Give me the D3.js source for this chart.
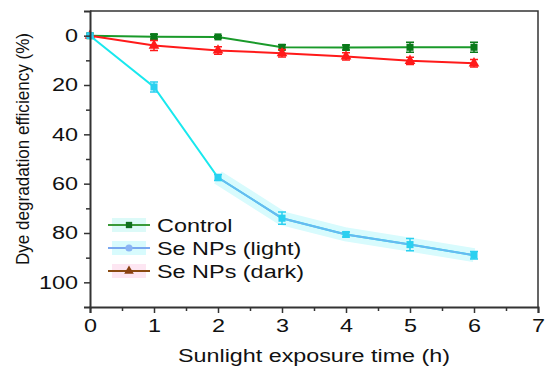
<!DOCTYPE html>
<html lang="en">
<head>
<meta charset="utf-8">
<title>Dye degradation</title>
<script src="https://d3js.org/d3.v7.min.js"></script>
<style>
body { margin: 0; background: #fff; }
text { font-family: "Liberation Sans", Arial, sans-serif; }
</style>
</head>
<body>
<script>
// data
const hours = [0, 1, 2, 3, 4, 5, 6];
const control = [0, 0.4, 0.5, 4.7, 4.8, 4.7, 4.7];
const controlErr = [0.5, 1, 0.5, 1, 1, 2, 2];
const light = [0, 20.8, 57.5, 74, 80.6, 84.7, 89];
const lightErr = [0.5, 2, 1.2, 2.5, 1, 2.5, 1.5];
const dark = [0, 4, 6, 7.1, 8.4, 10.2, 11.2];
const darkErr = [0.5, 2, 1.5, 1.5, 1.5, 1.5, 1.5];
const xTicks = [0, 1, 2, 3, 4, 5, 6, 7];
const yTicks = [0, 20, 40, 60, 80, 100];

const w = 550, h = 370;
const svg = d3.select("body").append("svg").attr("width", w).attr("height", h);

const x = d3.scaleLinear().domain([0, 7]).range([90, 538]);
const y = d3.scaleLinear().domain([-10, 110]).range([11, 307]);

// the original figure has wide, stretched lettering
function stretch(sel, k) {
  sel.each(function() {
    const len = this.getComputedTextLength();
    d3.select(this).attr("textLength", len * k).attr("lengthAdjust", "spacingAndGlyphs");
  });
}

// frame top + right
svg.append("path")
  .attr("d", `M90,11H538V307`)
  .attr("fill", "none").attr("stroke", "#333").attr("stroke-width", 1.5);

// light series halo
const line = d3.line().x((d, i) => x(d[0])).y(d => y(d[1]));
const lightPts = hours.map((t, i) => [t, light[i]]);
svg.append("path")
  .attr("d", line(lightPts.slice(2)))
  .attr("fill", "none").attr("stroke", "#d8fbfd").attr("stroke-width", 14);

function series(vals, errs, color, lineColor, marker, fromIdx) {
  const pts = hours.map((t, i) => [t, vals[i]]);
  const g = svg.append("g");
  g.append("path").attr("d", line(pts)).attr("fill", "none")
    .attr("stroke", color).attr("stroke-width", 2);
  if (lineColor) {
    g.append("path").attr("d", line(pts.slice(fromIdx))).attr("fill", "none")
      .attr("stroke", lineColor).attr("stroke-width", 2);
  }
  pts.forEach((p, i) => {
    const cx = x(p[0]), cy = y(p[1]);
    const e = errs[i];
    g.append("path")
      .attr("d", `M${cx},${y(p[1]-e)}V${y(p[1]+e)}M${cx-4},${y(p[1]-e)}h8M${cx-4},${y(p[1]+e)}h8`)
      .attr("stroke", marker.fill).attr("stroke-width", 1.5).attr("fill", "none");
    g.append("path")
      .attr("transform", `translate(${cx},${cy})`)
      .attr("d", d3.symbol().type(marker.type).size(marker.size)())
      .attr("fill", marker.fill);
  });
}

series(control, controlErr, "#1a9a2a", null, {type: d3.symbolSquare, size: 50, fill: "#0a7a1a"});
series(dark, darkErr, "#ff1a1a", null, {type: d3.symbolTriangle, size: 50, fill: "#ff1a1a"});
series(light, lightErr, "#19e8ee", "#6ab8f0", {type: d3.symbolSquare, size: 50, fill: "#2ad0f0"}, 2);

// axes
const xAxis = d3.axisBottom(x).tickValues(xTicks).tickSize(6).tickFormat(d3.format("d"));
const gx = svg.append("g").attr("transform", "translate(0,307)").call(xAxis);
gx.selectAll("line").attr("stroke", "#333").attr("stroke-width", 1.5);
gx.select(".domain").attr("stroke", "#333").attr("stroke-width", 2);
gx.selectAll("text").attr("font-size", 18).attr("fill", "#111").attr("dy", null).attr("y", 25)
  .call(stretch, 1.3);
svg.append("g").attr("transform", "translate(0,307)")
  .call(d3.axisBottom(x).tickValues(d3.range(0.5, 7, 1)).tickSize(4).tickFormat(""))
  .call(g => g.select(".domain").remove())
  .selectAll("line").attr("stroke", "#333").attr("stroke-width", 1.5);

const yAxis = d3.axisLeft(y).tickValues(yTicks).tickSize(6);
const gy = svg.append("g").attr("transform", "translate(90,0)").call(yAxis);
gy.select(".domain").attr("stroke", "#333").attr("stroke-width", 2);
gy.selectAll("line").attr("stroke", "#333").attr("stroke-width", 1.5);
gy.selectAll("text").attr("font-size", 18).attr("fill", "#111").attr("x", -12)
  .call(stretch, 1.3);
svg.append("g").attr("transform", "translate(90,0)")
  .call(d3.axisLeft(y).tickValues([10, 30, 50, 70, 90]).tickSize(4).tickFormat(""))
  .call(g => g.select(".domain").remove())
  .selectAll("line").attr("stroke", "#333").attr("stroke-width", 1.5);

// titles
svg.append("text").attr("x", 314).attr("y", 362).attr("text-anchor", "middle")
  .attr("font-size", 18).attr("fill", "#111").text("Sunlight exposure time (h)")
  .attr("textLength", 272).attr("lengthAdjust", "spacingAndGlyphs");
svg.append("text").attr("transform", "translate(29,149) rotate(-90)")
  .attr("text-anchor", "middle").attr("font-size", 19).attr("fill", "#111")
  .text("Dye degradation efficiency (%)")
  .attr("textLength", 232).attr("lengthAdjust", "spacingAndGlyphs");

// legend
const legend = [
  {name: "Control", line: "#3a9a3a", fill: "#0f6f1f", bg: "#dcfaf8", type: d3.symbolSquare},
  {name: "Se NPs (light)", line: "#7aa8f0", fill: "#8ab4f4", bg: "#d8fbfd", type: d3.symbolCircle},
  {name: "Se NPs (dark)", line: "#8a4a10", fill: "#8a4010", bg: "#fde6f2", type: d3.symbolTriangle}
];
const ly = d3.scalePoint().domain(legend.map(d => d.name)).range([225, 271]);
legend.forEach(d => {
  const yy = ly(d.name);
  svg.append("rect").attr("x", 112).attr("y", yy - 7).attr("width", 34).attr("height", 14).attr("fill", d.bg);
  svg.append("line").attr("x1", 108).attr("x2", 150).attr("y1", yy).attr("y2", yy)
    .attr("stroke", d.line).attr("stroke-width", 2);
  svg.append("path").attr("transform", `translate(129,${yy})`)
    .attr("d", d3.symbol().type(d.type).size(40)()).attr("fill", d.fill);
  svg.append("text").attr("x", 157).attr("y", yy + 6.5).attr("font-size", 18).attr("fill", "#111")
    .text(d.name).call(stretch, 1.3);
});
</script>
</body>
</html>
